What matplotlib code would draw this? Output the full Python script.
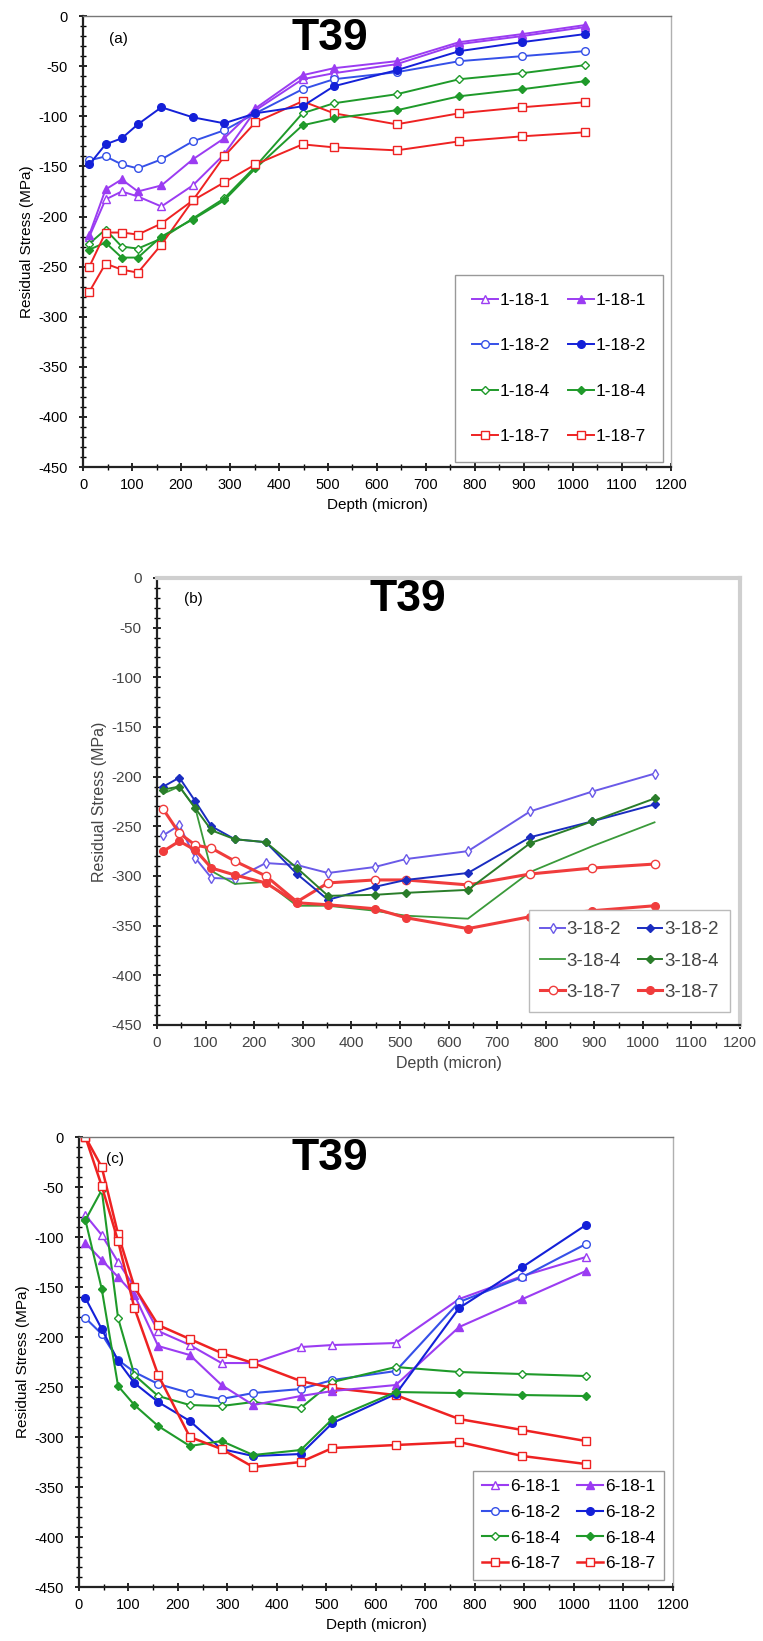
import matplotlib
matplotlib.use("Agg")
import matplotlib.pyplot as plt
from matplotlib.ticker import MultipleLocator

plt.rcParams["font.family"] = ["Liberation Sans", "DejaVu Sans"]
plt.rcParams["axes.unicode_minus"] = False

DEPTH = [13, 46, 79, 112, 160, 224, 288, 352, 448, 512, 640, 768, 896, 1024]

# panel (a)
A_LABELS = ["1-18-1", "1-18-2", "1-18-4", "1-18-7"]
A1_OPEN = [-220, -183, -175, -180, -190, -169, -138, -94, -63, -57, -48, -28, -20, -11]
A1_FILL = [-218, -173, -163, -175, -169, -143, -122, -92, -59, -52, -45, -26, -18, -9]
A2_OPEN = [-144, -140, -148, -152, -143, -125, -114, -97, -73, -63, -56, -45, -40, -35]
A2_FILL = [-148, -128, -122, -108, -91, -101, -107, -97, -90, -70, -54, -35, -26, -18]
A4_OPEN = [-227, -213, -230, -232, -222, -202, -182, -150, -97, -87, -78, -63, -57, -49]
A4_FILL = [-233, -226, -241, -241, -220, -203, -184, -152, -109, -102, -94, -80, -73, -65]
A7_OPEN = [-275, -247, -253, -256, -228, -184, -140, -106, -85, -97, -108, -97, -91, -86]
A7_FILL = [-250, -216, -216, -218, -207, -184, -166, -148, -128, -131, -134, -125, -120, -116]

# panel (b)
B_LABELS = ["3-18-2", "3-18-4", "3-18-7"]
B2_OPEN = [-259, -249, -282, -302, -303, -287, -289, -297, -291, -283, -275, -235, -215, -197]
B2_FILL = [-210, -201, -225, -250, -263, -266, -298, -324, -311, -304, -297, -261, -245, -228]
B4_OPEN = [-217, -210, -232, -295, -308, -306, -330, -330, -335, -340, -343, -296, -270, -246]
B4_FILL = [-213, -210, -232, -254, -263, -266, -292, -320, -319, -317, -314, -267, -245, -222]
B7_OPEN = [-233, -257, -269, -272, -285, -300, -326, -307, -304, -304, -309, -298, -292, -288]
B7_FILL = [-275, -265, -274, -292, -299, -307, -327, -329, -333, -342, -353, -341, -335, -330]

# panel (c)
C_LABELS = ["6-18-1", "6-18-2", "6-18-4", "6-18-7"]
C1_OPEN = [-78, -98, -125, -150, -194, -208, -226, -226, -210, -208, -206, -162, -139, -120]
C1_FILL = [-106, -123, -140, -158, -209, -218, -248, -268, -259, -254, -248, -190, -162, -134]
C2_OPEN = [-181, -197, -223, -235, -247, -256, -262, -256, -252, -243, -234, -165, -140, -107]
C2_FILL = [-161, -192, -224, -246, -265, -284, -312, -319, -317, -286, -257, -171, -130, -88]
C4_OPEN = [-83, -53, -181, -238, -259, -268, -269, -265, -271, -245, -230, -235, -237, -239]
C4_FILL = [-83, -152, -249, -268, -289, -309, -304, -318, -313, -282, -255, -256, -258, -259]
C7_OPEN = [0, -30, -97, -150, -188, -202, -216, -226, -244, -251, -258, -282, -293, -304]
C7_FILL = [0, -49, -104, -171, -238, -300, -312, -330, -325, -311, -308, -305, -319, -327]

PURPLE = "#9b3cf2"
BLUE_O = "#3550e8"
BLUE_F = "#1420d8"
GREEN = "#1f9a2a"
RED = "#ee2222"


def style_axes(ax, panel, tick_color="black", top_color="#9a9a9a", top_lw=1.0, fs=10.5,
               title_pos=(0.42, 0.95), panel_pos=(0.06, 0.95)):
    ax.set_xlim(0, 1200)
    ax.set_ylim(-450, 0)
    ax.xaxis.set_major_locator(MultipleLocator(100))
    ax.xaxis.set_minor_locator(MultipleLocator(50))
    ax.yaxis.set_major_locator(MultipleLocator(50))
    ax.yaxis.set_minor_locator(MultipleLocator(10))
    ax.tick_params(which="major", direction="inout", length=6, width=1.2,
                   labelsize=fs, labelcolor=tick_color)
    ax.tick_params(which="minor", direction="inout", length=4, width=1.0)
    ax.tick_params(axis="y", which="major", pad=8)
    ax.tick_params(axis="x", which="major", pad=5)
    ax.tick_params(axis="y", which="both", right=False)
    ax.tick_params(axis="x", which="both", top=False)
    for s in ["left", "bottom"]:
        ax.spines[s].set_linewidth(1.6)
        ax.spines[s].set_color("#222222")
    for s in ["top", "right"]:
        ax.spines[s].set_linewidth(top_lw)
        ax.spines[s].set_color(top_color)
    ax.set_xlabel("Depth (micron)", fontsize=fs + 0.5, color=tick_color, labelpad=4)
    ax.set_ylabel("Residual Stress (MPa)", fontsize=fs + 0.5, color=tick_color, labelpad=3)
    ax.text(title_pos[0], title_pos[1], "T39", transform=ax.transAxes,
            ha="center", va="center", fontsize=32, fontweight="bold")
    ax.text(panel_pos[0], panel_pos[1], panel, transform=ax.transAxes,
            ha="center", va="center", fontsize=11)


def series(ax, y, color, marker, filled, lw=1.4, ms=5.5, label=None):
    face = color if filled else "white"
    line, = ax.plot(DEPTH, y, color=color, lw=lw, marker=marker, ms=ms,
                    markerfacecolor=face, markeredgecolor=color, markeredgewidth=1.0,
                    label=label)
    return line


def main():
    fig = plt.figure(figsize=(7.63, 16.41), dpi=100)

    # ---- (a)
    ax = fig.add_axes([0.1088, 0.7154, 0.7706, 0.2748])
    o = [series(ax, A1_OPEN, PURPLE, "^", False, label=A_LABELS[0]),
         series(ax, A2_OPEN, BLUE_O, "o", False, label=A_LABELS[1]),
         series(ax, A4_OPEN, GREEN, "D", False, ms=4.5, label=A_LABELS[2]),
         series(ax, A7_OPEN, RED, "s", False, label=A_LABELS[3])]
    f = [series(ax, A1_FILL, PURPLE, "^", True, label=A_LABELS[0]),
         series(ax, A2_FILL, BLUE_F, "o", True, label=A_LABELS[1]),
         series(ax, A4_FILL, GREEN, "D", True, ms=4.5, label=A_LABELS[2]),
         series(ax, A7_FILL, RED, "s", False, label=A_LABELS[3])]
    style_axes(ax, "(a)", top_color="#777777", title_pos=(0.42, 0.95), panel_pos=(0.06, 0.95))
    ax.spines["right"].set_color("#b0b0b0")
    leg = ax.legend(handles=o + f, ncol=2, loc="lower right",
                    bbox_to_anchor=(0.987, 0.012), borderaxespad=0,
                    fontsize=12.5, labelspacing=1.75, handlelength=1.5,
                    handletextpad=0.1, columnspacing=1.0, borderpad=1.0,
                    fancybox=False, framealpha=1, edgecolor="#999999")
    leg.get_frame().set_linewidth(1.0)

    # ---- (b)
    ax = fig.add_axes([0.2058, 0.3754, 0.7641, 0.2724])
    o = [series(ax, B2_OPEN, "#6a5ae8", "d", False, lw=1.4, ms=5, label=B_LABELS[0]),
         series(ax, B4_OPEN, "#3a9a3a", None, False, lw=1.3, label=B_LABELS[1]),
         series(ax, B7_OPEN, "#f03c3c", "o", False, lw=2.2, ms=6, label=B_LABELS[2])]
    f = [series(ax, B2_FILL, "#1a2cc0", "D", True, lw=1.4, ms=4.5, label=B_LABELS[0]),
         series(ax, B4_FILL, "#2a7d2a", "D", True, lw=1.4, ms=4, label=B_LABELS[1]),
         series(ax, B7_FILL, "#f03c3c", "o", True, lw=2.2, ms=5.5, label=B_LABELS[2])]
    style_axes(ax, "(b)", tick_color="#444444", top_color="#cfcfcf", top_lw=3.0, fs=11,
               title_pos=(0.43, 0.952), panel_pos=(0.063, 0.952))
    leg = ax.legend(handles=o + f, ncol=2, loc="lower right",
                    bbox_to_anchor=(0.983, 0.029), borderaxespad=0,
                    fontsize=13.5, labelspacing=0.75, handlelength=1.3,
                    handletextpad=0.1, columnspacing=0.9, borderpad=0.6,
                    fancybox=False, framealpha=1, edgecolor="#bbbbbb")
    for t in leg.get_texts():
        t.set_color("#444444")

    # ---- (c)
    ax = fig.add_axes([0.1035, 0.0329, 0.7785, 0.2742])
    o = [series(ax, C1_OPEN, PURPLE, "^", False, lw=1.5, label=C_LABELS[0]),
         series(ax, C2_OPEN, BLUE_O, "o", False, lw=1.5, label=C_LABELS[1]),
         series(ax, C4_OPEN, GREEN, "D", False, lw=1.5, ms=4.5, label=C_LABELS[2]),
         series(ax, C7_OPEN, RED, "s", False, lw=1.8, label=C_LABELS[3])]
    f = [series(ax, C1_FILL, PURPLE, "^", True, lw=1.5, label=C_LABELS[0]),
         series(ax, C2_FILL, BLUE_F, "o", True, lw=1.5, label=C_LABELS[1]),
         series(ax, C4_FILL, GREEN, "D", True, lw=1.5, ms=4.5, label=C_LABELS[2]),
         series(ax, C7_FILL, RED, "s", False, lw=1.8, label=C_LABELS[3])]
    style_axes(ax, "(c)", top_color="#777777", title_pos=(0.423, 0.953), panel_pos=(0.06, 0.951))
    ax.spines["right"].set_color("#b0b0b0")
    leg = ax.legend(handles=o + f, ncol=2, loc="lower right",
                    bbox_to_anchor=(0.985, 0.016), borderaxespad=0,
                    fontsize=12.5, labelspacing=0.6, handlelength=1.5,
                    handletextpad=0.1, columnspacing=1.0, borderpad=0.5,
                    fancybox=False, framealpha=1, edgecolor="#999999")
    leg.get_frame().set_linewidth(1.0)

    fig.savefig("out.png", dpi=100)


if __name__ == "__main__":
    main()
